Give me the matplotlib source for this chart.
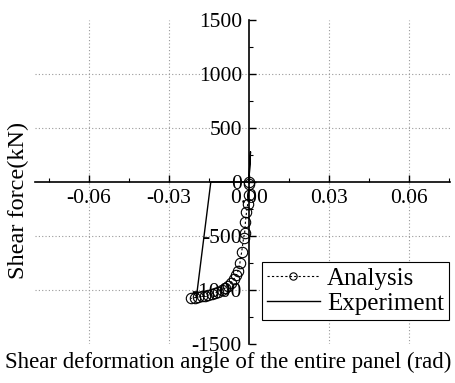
import matplotlib
matplotlib.use("Agg")
import matplotlib.pyplot as plt
from matplotlib.ticker import MultipleLocator, FixedLocator, FuncFormatter

plt.rcParams['font.family'] = ['Liberation Serif', 'DejaVu Serif']
plt.rcParams['mathtext.fontset'] = 'stix'

# Analysis: shear deformation angle (rad) vs shear force (kN)
analysis_x = [0.0, 0.0002, -0.0001, -0.0004, -0.0009, -0.0013, -0.0016, -0.0020,
              -0.0027, -0.0034, -0.0040, -0.0048, -0.0057, -0.0067, -0.0078,
              -0.0090, -0.0102, -0.0115, -0.0128, -0.0140, -0.0153, -0.0165,
              -0.0177, -0.0190, -0.0203, -0.0218]
analysis_y = [0, -20, -120, -200, -280, -370, -470, -520, -645, -753, -820,
              -865, -902, -932, -960, -983, -1000, -1015, -1028, -1038, -1048,
              -1055, -1060, -1066, -1071, -1078]

# Experiment
experiment_x = [0.0, 0.0004, 0.0006, 0.0, -0.0143, -0.0197]
experiment_y = [0, 200, 280, 0, 0, -1065]

x_ticks = [-0.06, -0.03, 0.00, 0.03, 0.06]
y_ticks = [-1500, -1000, -500, 0, 500, 1000, 1500]
x_grid = [-0.06, -0.03, 0.03, 0.06]
y_grid = [-1000, -500, 500, 1000]

fig = plt.figure(figsize=(4.55, 3.83), dpi=100)
ax = fig.add_axes([35/455, 39/383, 415/455, 324/383])

ax.set_xlim(-0.0803, 0.0755)
ax.set_ylim(-1500, 1500)

for gx in x_grid:
    ax.axvline(gx, color='#999999', lw=0.8, ls=(0, (1, 2)), zorder=0)
for gy in y_grid:
    ax.axhline(gy, color='#999999', lw=0.8, ls=(0, (1, 2)), zorder=0)

ax.plot(analysis_x, analysis_y, ls=(0, (2, 2)), lw=0.8, color='black',
        marker='o', ms=7.5, mfc='none', mec='black', mew=0.8,
        label='Analysis', zorder=3)
ax.plot(experiment_x, experiment_y, ls='-', lw=1.0, color='black',
        label='Experiment', zorder=2)

ax.spines['left'].set_position(('data', 0))
ax.spines['bottom'].set_position(('data', 0))
ax.spines['top'].set_visible(False)
ax.spines['right'].set_visible(False)
for s in ('left', 'bottom'):
    ax.spines[s].set_linewidth(1.2)

ax.xaxis.set_major_locator(FixedLocator(x_ticks))
ax.xaxis.set_minor_locator(MultipleLocator(0.015))
ax.yaxis.set_major_locator(FixedLocator(y_ticks))
ax.yaxis.set_minor_locator(MultipleLocator(250))
ax.xaxis.set_major_formatter(FuncFormatter(lambda v, p: f"{v:.2f}"))
ax.yaxis.set_major_formatter(FuncFormatter(lambda v, p: f"{v:.0f}"))

ax.tick_params(which='major', direction='in', length=5, width=1.0,
               labelsize=15.5, pad=5)
ax.tick_params(which='minor', direction='in', length=3, width=0.8)

leg = ax.legend(loc='upper left', bbox_to_anchor=(0.547, 0.253),
                borderaxespad=0, fontsize=18, frameon=True, fancybox=False,
                edgecolor='black', framealpha=1, numpoints=1,
                handlelength=2.1, handletextpad=0.3, borderpad=0.2,
                labelspacing=0.12, markerscale=0.7)
leg.get_frame().set_linewidth(0.8)

fig.text(18/455, 1 - 200/383, 'Shear force(kN)', rotation=90,
         ha='center', va='center', fontsize=17.5)
fig.text(228/455, 1 - 362/383,
         'Shear deformation angle of the entire panel (rad)',
         ha='center', va='center', fontsize=16.5)

fig.savefig('out.png', dpi=100)
